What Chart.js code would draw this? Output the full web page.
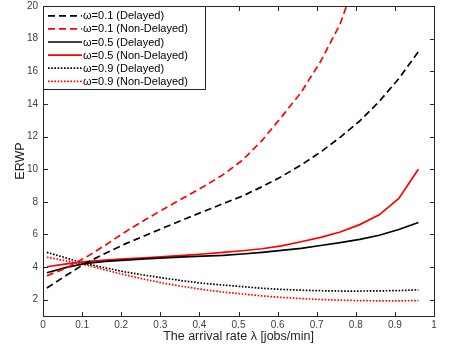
<!DOCTYPE html>
<html>
<head>
<meta charset="utf-8">
<script src="https://cdn.jsdelivr.net/npm/chart.js@4.4.0/dist/chart.umd.min.js"></script>
<style>
  html, body { margin: 0; padding: 0; background: #fff; }
  #wrap { width: 449px; height: 347px; }
</style>
</head>
<body>
<div id="wrap"><canvas id="c" width="449" height="347"></canvas></div>
<script>
// arrival rate lambda
var lambdas = [0.01, 0.06, 0.11, 0.16, 0.21, 0.26, 0.31, 0.36, 0.41, 0.46,
               0.51, 0.56, 0.61, 0.66, 0.71, 0.76, 0.81, 0.86, 0.91, 0.96];

var w01Delayed    = [2.72, 3.50, 4.25, 4.85, 5.42, 5.92, 6.42, 6.92, 7.40, 7.88,
                     8.35, 8.92, 9.55, 10.25, 11.05, 11.95, 12.95, 14.15, 15.55, 17.2];
var w01NonDelayed = [3.47, 3.95, 4.60, 5.35, 6.15, 6.88, 7.58, 8.25, 8.92, 9.65,
                     10.55, 11.75, 13.2, 14.7, 16.6, 18.9, 22.3, 26.5, 32.0, 40.0];
var w05Delayed    = [3.65, 3.98, 4.22, 4.35, 4.43, 4.50, 4.56, 4.62, 4.67, 4.72,
                     4.80, 4.90, 5.02, 5.15, 5.32, 5.50, 5.70, 5.95, 6.30, 6.73];
var w05NonDelayed = [4.02, 4.20, 4.33, 4.42, 4.50, 4.57, 4.64, 4.71, 4.80, 4.90,
                     5.00, 5.12, 5.30, 5.55, 5.82, 6.15, 6.60, 7.20, 8.20, 10.0];
var w09Delayed    = [4.90, 4.55, 4.20, 3.95, 3.70, 3.50, 3.32, 3.15, 3.00, 2.90,
                     2.80, 2.70, 2.63, 2.58, 2.55, 2.53, 2.53, 2.54, 2.56, 2.60];
var w09NonDelayed = [4.60, 4.38, 4.12, 3.82, 3.52, 3.25, 3.00, 2.80, 2.62, 2.47,
                     2.35, 2.23, 2.14, 2.07, 2.01, 1.97, 1.94, 1.93, 1.93, 1.94];

var xTicks = [0, 0.1, 0.2, 0.3, 0.4, 0.5, 0.6, 0.7, 0.8, 0.9, 1];
var yTicks = [2, 4, 6, 8, 10, 12, 14, 16, 18, 20];

var FONT = '"Liberation Sans", Arial, Helvetica, sans-serif';
var AXIS = '#262626';

function pts(ys){
    return lambdas.map(function(x, i){ return {x: x, y: ys[i]}; });
}

function ds(label, ys, color, dash){
    return {
        label: label,
        data: pts(ys),
        borderColor: color,
        backgroundColor: color,
        borderDash: dash,
        borderWidth: 1.7,
        pointRadius: 0,
        tension: 0,
        fill: false
    };
}

var DASH = [7, 4], DOT = [1.6, 1.6];

var datasets = [
    ds('\u03c9=0.1 (Delayed)', w01Delayed, '#000000', DASH),
    ds('\u03c9=0.1 (Non-Delayed)', w01NonDelayed, '#ff0000', DASH),
    ds('\u03c9=0.5 (Delayed)', w05Delayed, '#000000', []),
    ds('\u03c9=0.5 (Non-Delayed)', w05NonDelayed, '#ff0000', []),
    ds('\u03c9=0.9 (Delayed)', w09Delayed, '#000000', DOT),
    ds('\u03c9=0.9 (Non-Delayed)', w09NonDelayed, '#ff0000', DOT)
];

// box, inward ticks on all four sides (matlab style) and the legend box
var frame = {
    id: 'frame',
    afterDraw: function(chart){
        var c = chart.ctx;
        var xs = chart.scales.x, ys = chart.scales.y;
        var left = Math.round(xs.getPixelForValue(0));
        var right = Math.round(xs.getPixelForValue(1));
        var top = Math.round(ys.getPixelForValue(20));
        var bottom = Math.round(ys.getPixelForValue(1));
        var L = 4;
        c.save();
        c.fillStyle = AXIS;
        c.fillRect(left, top, right - left + 1, 1);
        c.fillRect(left, bottom, right - left + 1, 1);
        c.fillRect(left, top, 1, bottom - top + 1);
        c.fillRect(right, top, 1, bottom - top + 1);
        xTicks.forEach(function(v){
            var px = Math.round(xs.getPixelForValue(v));
            c.fillRect(px, bottom - L, 1, L);
            c.fillRect(px, top + 1, 1, L);
        });
        yTicks.forEach(function(v){
            var py = Math.round(ys.getPixelForValue(v));
            c.fillRect(left + 1, py, L, 1);
            c.fillRect(right - L, py, L, 1);
        });

        // legend
        var w = 162, h = 83, rowH = 13.1, firstY = 9.3;
        c.fillStyle = '#fff';
        c.fillRect(left, top, w, h);
        c.fillStyle = AXIS;
        c.fillRect(left, top, w + 1, 1);
        c.fillRect(left, top + h, w + 1, 1);
        c.fillRect(left, top, 1, h + 1);
        c.fillRect(left + w, top, 1, h + 1);
        c.font = '11px ' + FONT;
        c.textBaseline = 'middle';
        chart.data.datasets.forEach(function(d, i){
            var y = top + 0.5 + firstY + i * rowH;
            c.beginPath();
            c.setLineDash(d.borderDash);
            c.strokeStyle = d.borderColor;
            c.lineWidth = d.borderWidth;
            c.moveTo(left + 5, y);
            c.lineTo(left + 39, y);
            c.stroke();
            c.setLineDash([]);
            c.fillStyle = '#000';
            c.fillText(d.label, left + 40, y + 0.5);
        });
        c.restore();
    }
};

new Chart(document.getElementById('c'), {
    type: 'line',
    data: { datasets: datasets },
    options: {
        responsive: false,
        animation: false,
        layout: { padding: { top: 6, right: 15, left: 0, bottom: 0 } },
        plugins: { legend: { display: false }, tooltip: { enabled: false } },
        scales: {
            x: {
                type: 'linear',
                min: 0, max: 1,
                afterBuildTicks: function(s){ s.ticks = xTicks.map(function(v){ return {value: v}; }); },
                afterFit: function(s){ s.height = 31; s.paddingLeft = 0; s.paddingRight = 0; },
                grid: { display: false, drawTicks: false, tickLength: 0 },
                border: { display: false },
                ticks: {
                    color: '#404040', padding: 3,
                    font: { family: FONT, size: 10 },
                    maxRotation: 0,
                    callback: function(v){ return String(Math.round(v * 10) / 10); }
                },
                title: {
                    display: true,
                    text: 'The arrival rate \u03bb [jobs/min]',
                    color: '#262626',
                    font: { family: FONT, size: 12.5 },
                    padding: { top: 0, bottom: 3 }
                }
            },
            y: {
                min: 1, max: 20,
                afterBuildTicks: function(s){ s.ticks = yTicks.map(function(v){ return {value: v}; }); },
                afterFit: function(s){ s.width = 43; s.paddingTop = 0; s.paddingBottom = 0; },
                grid: { display: false, drawTicks: false, tickLength: 0 },
                border: { display: false },
                ticks: {
                    color: '#404040', padding: 5,
                    font: { family: FONT, size: 10 }
                },
                title: {
                    display: true,
                    text: 'ERWP',
                    color: '#262626',
                    font: { family: FONT, size: 12.5 },
                    padding: { top: 13, bottom: 0 }
                }
            }
        }
    },
    plugins: [frame]
});
</script>
</body>
</html>
